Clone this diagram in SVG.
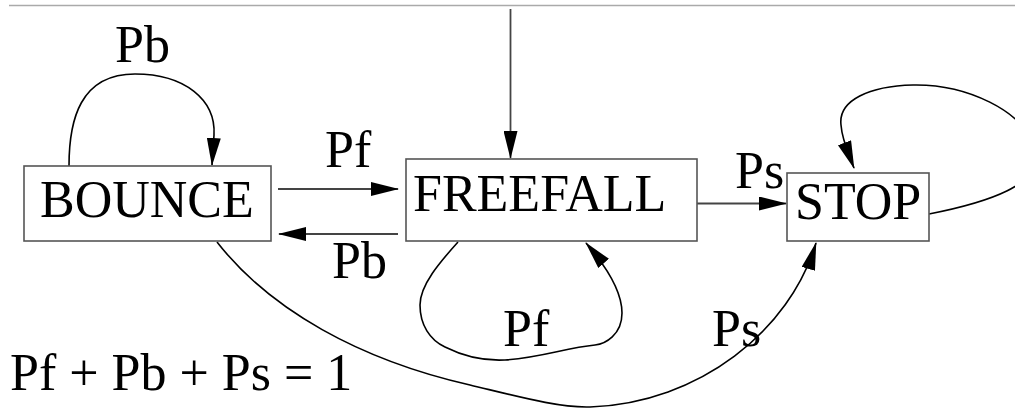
<svg xmlns="http://www.w3.org/2000/svg" width="1015" height="408" viewBox="0 0 1015 408">
<style>
  .box { fill: #ffffff; stroke: #555555; stroke-width: 1.6; }
  .lbl { font-family: "Liberation Serif", "Times New Roman", serif; font-size: 52px; fill: #000000; }
  .st { fill: none; stroke: #444444; stroke-width: 1.8; }
  .cv { fill: none; stroke: #000000; stroke-width: 1.6; }
</style>
<defs>
  <marker id="ah" markerUnits="userSpaceOnUse" markerWidth="28" markerHeight="14" viewBox="0 0 28 14" refX="27" refY="7" orient="auto">
    <path d="M0,0 L28,7 L0,14 Z" fill="#000000"/>
  </marker>
</defs>
<rect width="1015" height="408" fill="#ffffff"/>
<line x1="9" y1="5.5" x2="1015" y2="5.5" stroke="#aaaaaa" stroke-width="1.5"/>

<g id="connectors">
  <line class="st" x1="510.5" y1="9" x2="510.5" y2="158" marker-end="url(#ah)"/>
  <line class="st" x1="278" y1="189" x2="398" y2="189" marker-end="url(#ah)"/>
  <line class="st" x1="398" y1="234" x2="279" y2="234" marker-end="url(#ah)"/>
  <line class="st" x1="697" y1="203.5" x2="786" y2="203.5" marker-end="url(#ah)"/>
  <path class="cv" d="M69,166 C69,120 80,74 135,74 C185,74 216,100 214,135 L212,165" marker-end="url(#ah)"/>
  <path class="cv" d="M458,242 C440,262 420,285 420,305 C420,325 430,340 445,347 C465,357 485,361 505,360 C540,358 565,348 595,345 C605,344 622,335 622,313 C622,290 605,265 586,243" marker-end="url(#ah)"/>
  <path class="cv" d="M217,242 C270,310 360,360 470,385 C520,397 560,408 590,407 C700,403 790,330 816,243" marker-end="url(#ah)"/>
  <path class="cv" d="M929,214 C985,203 1045,185 1035,150 C1025,110 965,84 913,85 C870,86 838,100 841,125 C842,140 848,152 854,168" marker-end="url(#ah)"/>
  <text class="lbl" x="115" y="62">Pb</text>
  <text class="lbl" x="325" y="167">Pf</text>
  <text class="lbl" x="332" y="278">Pb</text>
  <text class="lbl" x="735" y="188">Ps</text>
  <text class="lbl" x="503" y="346">Pf</text>
  <text class="lbl" x="712" y="346">Ps</text>
</g>

<g id="bounce">
  <rect class="box" x="24" y="166" width="247" height="75"/>
  <text class="lbl" x="40" y="217">BOUNCE</text>
</g>
<g id="freefall">
  <rect class="box" x="406" y="159" width="291" height="82"/>
  <text class="lbl" x="413" y="211">FREEFALL</text>
</g>
<g id="stop">
  <rect class="box" x="787" y="173" width="142" height="68"/>
  <text class="lbl" x="795" y="219">STOP</text>
</g>

<text class="lbl" x="10" y="390">Pf + Pb + Ps = 1</text>
</svg>
